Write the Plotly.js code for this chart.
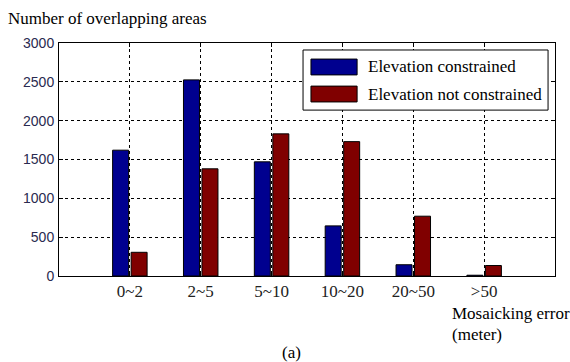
<!DOCTYPE html>
<html>
<head>
<meta charset="utf-8">
<script src="https://cdn.plot.ly/plotly-3.0.1.min.js"></script>
<style>
html, body { margin: 0; padding: 0; background: #fff; }
#chart { width: 570px; height: 362px; }
</style>
</head>
<body>
<div id="chart"></div>
<script>
// ---- data ----
const categories = ['0~2', '2~5', '5~10', '10~20', '20~50', '>50'];
const seriesNames = ['Elevation constrained', 'Elevation not constrained'];
const constrainedValues = [1620, 2525, 1470, 645, 145, 10];
const notConstrainedValues = [305, 1380, 1830, 1730, 770, 135];
const yTickValues = [0, 500, 1000, 1500, 2000, 2500, 3000];
const yAxisTitle = 'Number of overlapping areas';
const xAxisTitleLines = ['Mosaicking error', '(meter)'];
const panelLabel = '(a)';

const colors = ['#00008f', '#800000'];
const serif = '"Liberation Serif", "Times New Roman", Times, serif';
const sans = '"Liberation Sans", Arial, sans-serif';

const traces = [
  { type: 'bar', name: seriesNames[0], x: categories, y: constrainedValues,
    marker: { color: colors[0], line: { color: '#000', width: 1 } }, showlegend: false },
  { type: 'bar', name: seriesNames[1], x: categories, y: notConstrainedValues,
    marker: { color: colors[1], line: { color: '#000', width: 1 } }, showlegend: false }
];

// custom legend (box + swatches + text) in paper coordinates
const legBox = { x0: 0.492, x1: 0.986, y0: 0.712, y1: 0.970 };
const swX = [0.508, 0.601];
const rowY = [0.897, 0.781];
const swH = 0.034;
const shapes = [
  { type: 'rect', xref: 'paper', yref: 'paper', x0: legBox.x0, x1: legBox.x1, y0: legBox.y0, y1: legBox.y1,
    fillcolor: '#fff', line: { color: '#000', width: 1 }, layer: 'above' }
];
const annotations = [];
seriesNames.forEach((n, i) => {
  shapes.push({ type: 'rect', xref: 'paper', yref: 'paper', x0: swX[0], x1: swX[1],
    y0: rowY[i] - swH, y1: rowY[i] + swH, fillcolor: colors[i], line: { color: '#000', width: 1 }, layer: 'above' });
  annotations.push({ xref: 'paper', yref: 'paper', x: 0.619, y: rowY[i], xanchor: 'left', yanchor: 'middle',
    text: n, showarrow: false, font: { family: serif, size: 17, color: '#000' } });
});
annotations.push({ xref: 'paper', yref: 'paper', x: 0.789, y: -0.159, xanchor: 'left', yanchor: 'middle',
  text: xAxisTitleLines[0], showarrow: false, font: { family: serif, size: 17, color: '#000' } });
annotations.push({ xref: 'paper', yref: 'paper', x: 0.789, y: -0.253, xanchor: 'left', yanchor: 'middle',
  text: xAxisTitleLines[1], showarrow: false, font: { family: serif, size: 17, color: '#000' } });
annotations.push({ xref: 'paper', yref: 'paper', x: 0.468, y: -0.330, xanchor: 'center', yanchor: 'middle',
  text: panelLabel, showarrow: false, font: { family: serif, size: 17, color: '#000' } });

const layout = {
  width: 570, height: 362,
  margin: { l: 59, r: 15, t: 43, b: 86, pad: 0 },
  paper_bgcolor: '#fff', plot_bgcolor: '#fff',
  barmode: 'group', bargap: 0.478, bargroupgap: 0.135,
  title: { text: yAxisTitle, xref: 'container', yref: 'container', x: 0.014, xanchor: 'left',
    y: 0.95, yanchor: 'middle', font: { family: serif, size: 17, color: '#000' } },
  xaxis: {
    type: 'category', range: [-1, 6],
    showline: true, linecolor: '#000', linewidth: 1, mirror: 'ticks',
    ticks: 'inside', ticklen: 4, tickcolor: '#000',
    showgrid: true, gridcolor: '#000', gridwidth: 1, griddash: '3px,3px',
    tickfont: { family: serif, size: 17, color: '#222' }, ticklabelstandoff: 0,
    zeroline: false, fixedrange: true
  },
  yaxis: {
    range: [0, 3000], tickvals: yTickValues,
    showline: true, linecolor: '#000', linewidth: 1, mirror: 'ticks',
    ticks: 'inside', ticklen: 4, tickcolor: '#000',
    showgrid: true, gridcolor: '#000', gridwidth: 1, griddash: '3px,3px',
    tickfont: { family: sans, size: 14, color: '#2a2a50' }, ticklabelstandoff: 1,
    zeroline: false, fixedrange: true
  },
  shapes: shapes,
  annotations: annotations,
  showlegend: false
};

Plotly.newPlot('chart', traces, layout, { staticPlot: true, displayModeBar: false });
</script>
</body>
</html>
